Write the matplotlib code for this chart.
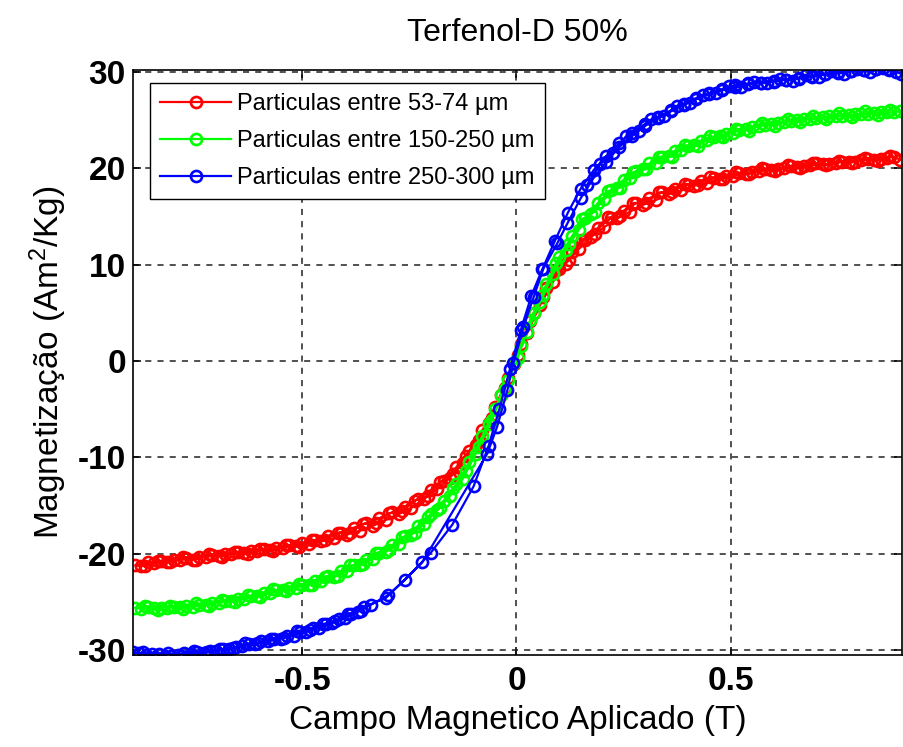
import matplotlib
matplotlib.use("Agg")
import matplotlib.pyplot as plt
from matplotlib.ticker import FuncFormatter

plt.rcParams['font.family'] = ['Liberation Sans', 'DejaVu Sans']
plt.rcParams['mathtext.fontset'] = 'custom'
plt.rcParams['mathtext.rm'] = 'Liberation Sans'
plt.rcParams['mathtext.it'] = 'Liberation Sans'

TITLE = "Terfenol-D 50%"
XLABEL = "Campo Magnetico Aplicado (T)"
YLABEL = "Magnetização (Am$^{2}$/Kg)"
LABELS = ["Particulas entre 53-74 \u00b5m",
          "Particulas entre 150-250 \u00b5m",
          "Particulas entre 250-300 \u00b5m"]
COLORS = ["#ff0000", "#00ff00", "#0000ff"]
XTICKS = [-0.5, 0, 0.5]
YTICKS = [-30, -20, -10, 0, 10, 20, 30]

# descending-field branch (red & green share field values)
X_DOWN = [0.895, 0.88, 0.85, 0.82, 0.79, 0.76, 0.73, 0.70, 0.67, 0.64, 0.61,
          0.58, 0.55, 0.52, 0.49, 0.46, 0.43, 0.40, 0.37, 0.34, 0.31, 0.28,
          0.25, 0.22, 0.19, 0.16, 0.13, 0.10, 0.07, 0.04, 0.01, -0.02, -0.05,
          -0.08, -0.11, -0.14, -0.17, -0.20, -0.23, -0.26, -0.29, -0.32, -0.35,
          -0.38, -0.41, -0.44, -0.47, -0.50, -0.53, -0.56, -0.59, -0.62, -0.65,
          -0.68, -0.71, -0.74, -0.77, -0.80, -0.83, -0.86, -0.89]
# ascending-field branch
X_UP = [-0.875, -0.845, -0.815, -0.785, -0.755, -0.725, -0.695, -0.665, -0.635,
        -0.605, -0.575, -0.545, -0.515, -0.485, -0.455, -0.425, -0.395, -0.365,
        -0.335, -0.305, -0.275, -0.245, -0.215, -0.185, -0.155, -0.125, -0.095,
        -0.065, -0.035, -0.005, 0.025, 0.055, 0.085, 0.115, 0.145, 0.175, 0.205,
        0.235, 0.265, 0.295, 0.325, 0.355, 0.385, 0.415, 0.445, 0.475, 0.505,
        0.535, 0.565, 0.595, 0.625, 0.655, 0.685, 0.715, 0.745, 0.775, 0.805,
        0.835, 0.865]
# second descending pass
X_DOWN2 = [0.8725, 0.8425, 0.8125, 0.7825, 0.7525, 0.7225, 0.6925, 0.6625,
           0.6325, 0.6025, 0.5725, 0.5425, 0.5125, 0.4825, 0.4525, 0.4225,
           0.3925, 0.3625, 0.3325, 0.3025, 0.2725, 0.2425, 0.2125, 0.1825,
           0.1525, 0.1225, 0.0925, 0.0625, 0.0325, 0.0025, -0.0275, -0.0575,
           -0.0875, -0.1175, -0.1475, -0.1775, -0.2075, -0.2375, -0.2675,
           -0.2975, -0.3275, -0.3575, -0.3875, -0.4175, -0.4475, -0.4775,
           -0.5075, -0.5375, -0.5675, -0.5975, -0.6275, -0.6575, -0.6875,
           -0.7175, -0.7475, -0.7775, -0.8075, -0.8375, -0.8675]

RED_DOWN = [20.9, 21.2, 21.0, 21.0, 20.7, 20.7, 20.4, 20.5, 20.2, 20.2, 19.9,
            19.9, 19.6, 19.5, 19.2, 19.0, 18.7, 18.3, 17.9, 17.5, 16.9, 16.4,
            15.6, 14.8, 13.8, 12.6, 11.3, 9.6, 7.6, 5.0, 1.8, -1.8, -4.8,
            -7.2, -9.3, -11.0, -12.4, -13.4, -14.3, -15.1, -15.7, -16.3, -16.8,
            -17.3, -17.8, -18.2, -18.6, -18.9, -19.1, -19.4, -19.5, -19.7, -19.8,
            -20.0, -20.1, -20.3, -20.4, -20.6, -20.8, -20.9, -21.2]
RED_UP = [-21.3, -21.0, -20.9, -20.6, -20.6, -20.3, -20.2, -20.0, -19.9,
          -19.7, -19.6, -19.4, -19.2, -19.0, -18.7, -18.4, -18.0, -17.6,
          -17.1, -16.5, -15.9, -15.2, -14.3, -13.3, -12.1, -10.6, -8.7,
          -6.4, -3.5, -0.3, 2.9, 5.8, 8.2, 10.1, 11.6, 12.9, 13.9,
          14.8, 15.5, 16.2, 16.7, 17.3, 17.7, 18.2, 18.5, 18.9, 19.2,
          19.4, 19.7, 19.8, 20.0, 20.1, 20.3, 20.4, 20.6, 20.7, 20.9,
          20.9, 21.1]
RED_DOWN2 = [21.3, 20.8, 21.1, 20.6, 20.8, 20.3, 20.6, 20.0, 20.3, 19.7,
             20.0, 19.4, 19.6, 18.9, 19.1, 18.3, 18.4, 17.5, 17.5, 16.4,
             16.4, 15.0, 14.9, 13.2, 12.6, 10.5, 9.4, 6.6, 4.2, 0.6,
             -2.8, -5.9, -8.2, -9.9, -11.7, -12.5, -14.0, -14.5, -15.6,
             -15.8, -16.8, -16.9, -17.8, -17.8, -18.6, -18.6, -19.3, -19.1,
             -19.7, -19.5, -20.0, -19.8, -20.3, -20.0, -20.6, -20.3, -20.9,
             -20.7, -21.3]

GREEN_DOWN = [25.9, 25.8, 25.8, 25.6, 25.6, 25.4, 25.4, 25.2, 25.1, 24.9, 24.7,
              24.5, 24.3, 24.0, 23.6, 23.2, 22.8, 22.3, 21.8, 21.2, 20.5, 19.7,
              18.8, 17.7, 16.4, 14.8, 13.0, 10.8, 8.0, 5.0, 1.6, -2.0, -5.0,
              -7.8, -10.5, -12.8, -14.5, -15.9, -17.1, -18.2, -19.1, -19.9, -20.6,
              -21.2, -21.8, -22.3, -22.8, -23.2, -23.5, -23.8, -24.1, -24.4, -24.7,
              -24.9, -25.1, -25.3, -25.4, -25.5, -25.6, -25.5, -25.6]
GREEN_UP = [-25.7, -25.6, -25.6, -25.5, -25.5, -25.3, -25.1, -24.9, -24.7,
            -24.4, -24.1, -23.8, -23.5, -23.2, -22.8, -22.4, -21.8, -21.2,
            -20.5, -19.8, -19.0, -18.0, -16.9, -15.5, -14.0, -12.2, -9.6,
            -6.5, -3.5, -0.2, 3.0, 6.1, 9.0, 11.5, 13.6, 15.3, 16.8,
            18.0, 19.0, 19.9, 20.6, 21.3, 21.9, 22.4, 22.9, 23.3, 23.7,
            24.1, 24.4, 24.6, 24.8, 25.0, 25.1, 25.3, 25.4, 25.5, 25.6,
            25.7, 25.8]
GREEN_DOWN2 = [26.1, 25.5, 25.9, 25.3, 25.7, 25.1, 25.4, 24.8, 25.1, 24.4,
               24.7, 23.9, 24.1, 23.2, 23.3, 22.3, 22.4, 21.2, 21.2, 19.9,
               19.6, 18.0, 17.6, 15.5, 14.7, 12.1, 10.2, 6.9, 4.3, 0.3,
               -2.9, -6.1, -8.9, -11.4, -13.2, -15.2, -16.2, -17.8, -18.3,
               -19.6, -19.9, -21.1, -21.2, -22.3, -22.4, -23.2, -23.1, -23.9,
               -23.7, -24.5, -24.3, -25.0, -24.8, -25.4, -25.1, -25.7, -25.4,
               -25.8, -25.4]

BLUE_X_DOWN = [0.897, 0.87, 0.84, 0.81, 0.78, 0.75, 0.72, 0.69, 0.66, 0.63, 0.60,
               0.57, 0.54, 0.51, 0.48, 0.45, 0.42, 0.39, 0.36, 0.33, 0.30, 0.27,
               0.24, 0.21, 0.18, 0.15, 0.12, 0.09, 0.06, 0.035, 0.01, -0.015,
               -0.04, -0.065, -0.10, -0.15, -0.20, -0.26, -0.30, -0.34, -0.37,
               -0.40, -0.43, -0.46, -0.49, -0.52, -0.55, -0.58, -0.61, -0.64,
               -0.67, -0.70, -0.73, -0.76, -0.79, -0.82, -0.85, -0.88]
BLUE_DOWN = [29.8, 30.3, 30.3, 30.2, 30.1, 29.9, 29.8, 29.5, 29.3, 29.2, 29.1,
             28.9, 28.8, 28.6, 28.2, 27.8, 27.3, 26.7, 26.0, 25.3, 24.6, 23.7,
             22.6, 21.3, 19.8, 17.9, 15.4, 12.5, 9.5, 6.8, 3.2, -0.8,
             -5.0, -8.8, -13.0, -17.0, -19.9, -22.7, -24.3, -25.3, -26.0,
             -26.7, -27.2, -27.7, -28.1, -28.5, -28.8, -29.1, -29.4, -29.6,
             -29.9, -30.1, -30.3, -30.4, -30.5, -30.6, -30.4, -30.3]
BLUE_X_UP = [-0.895, -0.865, -0.835, -0.805, -0.775, -0.745, -0.715, -0.685,
             -0.655, -0.625, -0.595, -0.565, -0.535, -0.505, -0.475, -0.445,
             -0.415, -0.385, -0.355, -0.305, -0.22, -0.068, -0.045, -0.021,
             -0.007, 0.016, 0.04, 0.063, 0.095, 0.119, 0.15, 0.18, 0.21, 0.24,
             0.27, 0.30, 0.33, 0.36, 0.39, 0.42, 0.45, 0.48, 0.51, 0.54, 0.57,
             0.60, 0.63, 0.66, 0.69, 0.72, 0.75, 0.78, 0.81, 0.84, 0.87]
BLUE_UP = [-30.2, -30.5, -30.4, -30.6, -30.3, -30.2, -30.1, -29.9,
           -29.7, -29.4, -29.1, -28.8, -28.5, -28.1, -27.7, -27.3,
           -26.8, -26.2, -25.5, -24.6, -20.9, -9.6, -6.8, -3.0,
           -0.2, 3.5, 6.6, 9.6, 12.2, 14.3, 16.9, 19.0, 20.7, 22.2,
           23.4, 24.4, 25.2, 25.9, 26.6, 27.2, 27.7, 28.1, 28.4, 28.7, 28.9,
           29.0, 29.2, 29.4, 29.6, 29.8, 30.0, 30.1, 30.2, 30.3, 30.2]
# extra passes of the blue sample in the saturation regions
BLUE_X_POS2 = [0.885, 0.855, 0.825, 0.795, 0.765, 0.735, 0.705, 0.675, 0.645,
               0.615, 0.585, 0.555, 0.525, 0.495, 0.465, 0.435, 0.405, 0.375,
               0.345, 0.315, 0.285, 0.255, 0.225, 0.195, 0.165]
BLUE_POS2 = [30.0, 30.4, 30.0, 30.3, 29.8, 30.1, 29.5, 29.7, 29.1, 29.3, 28.8,
             29.0, 28.4, 28.5, 27.8, 27.6, 26.8, 26.5, 25.4, 25.1, 23.9, 23.3,
             21.6, 20.4, 18.3]
BLUE_X_NEG2 = [-0.3625, -0.3925, -0.4225, -0.4525, -0.4825, -0.5125, -0.5425,
               -0.5725, -0.6025, -0.6325, -0.6625, -0.6925, -0.7225, -0.7525,
               -0.7825, -0.8125, -0.8425, -0.8725]
BLUE_NEG2 = [-25.9, -26.2, -27.0, -27.3, -27.9, -28.0, -28.7, -28.8, -29.3,
             -29.3, -29.8, -29.9, -30.2, -30.1, -30.6, -30.3, -30.7, -30.2]

nan = float('nan')
series = [
    (X_DOWN + X_UP + [nan] + X_DOWN2, RED_DOWN + RED_UP + [nan] + RED_DOWN2),
    (X_DOWN + X_UP + [nan] + X_DOWN2, GREEN_DOWN + GREEN_UP + [nan] + GREEN_DOWN2),
    (BLUE_X_DOWN + BLUE_X_UP + [nan] + BLUE_X_POS2 + [nan] + BLUE_X_NEG2,
     BLUE_DOWN + BLUE_UP + [nan] + BLUE_POS2 + [nan] + BLUE_NEG2),
]

fig = plt.figure(figsize=(9.04, 7.47), dpi=100)
ax = fig.add_axes([0.147, 0.1232, 0.851, 0.7831])

for (xs, ys), c, lab in zip(series, COLORS, LABELS):
    ax.plot(xs, ys, '-o', color=c, mfc='none', mec=c, ms=8, mew=1.9,
            lw=1.6, label=lab)

ax.set_xlim(-0.895, 0.90)
ax.set_ylim(-30.5, 30.2)
ax.set_xticks(XTICKS)
ax.set_yticks(YTICKS)

def fmt(v, pos):
    s = ('%g' % v)
    return s.replace('\u2212', '-')

ax.xaxis.set_major_formatter(FuncFormatter(fmt))
ax.yaxis.set_major_formatter(FuncFormatter(fmt))

ax.grid(True, color='#222222', linestyle=(0, (4, 4)), linewidth=1.1)
ax.tick_params(direction='in', length=6, width=1.1, top=True, right=True,
               labelsize=24)
ax.tick_params(axis='y', pad=5)
ax.tick_params(axis='x', pad=8)
for lbl in ax.get_xticklabels() + ax.get_yticklabels():
    lbl.set_fontweight('bold')
for sp in ax.spines.values():
    sp.set_linewidth(1.2)

ax.set_xlabel(XLABEL, fontsize=24, labelpad=6)
ax.set_ylabel(YLABEL, fontsize=24, labelpad=6)
ax.set_title(TITLE, fontsize=23, pad=21)

leg = ax.legend(loc='upper left', bbox_to_anchor=(0.022, 0.978), fontsize=17,
                numpoints=1, handlelength=3.0, handletextpad=0.25,
                labelspacing=0.62, borderpad=0.45, fancybox=False,
                framealpha=1, edgecolor='black', borderaxespad=0)
leg.get_frame().set_linewidth(1.0)

fig.savefig('out.png', dpi=100)
